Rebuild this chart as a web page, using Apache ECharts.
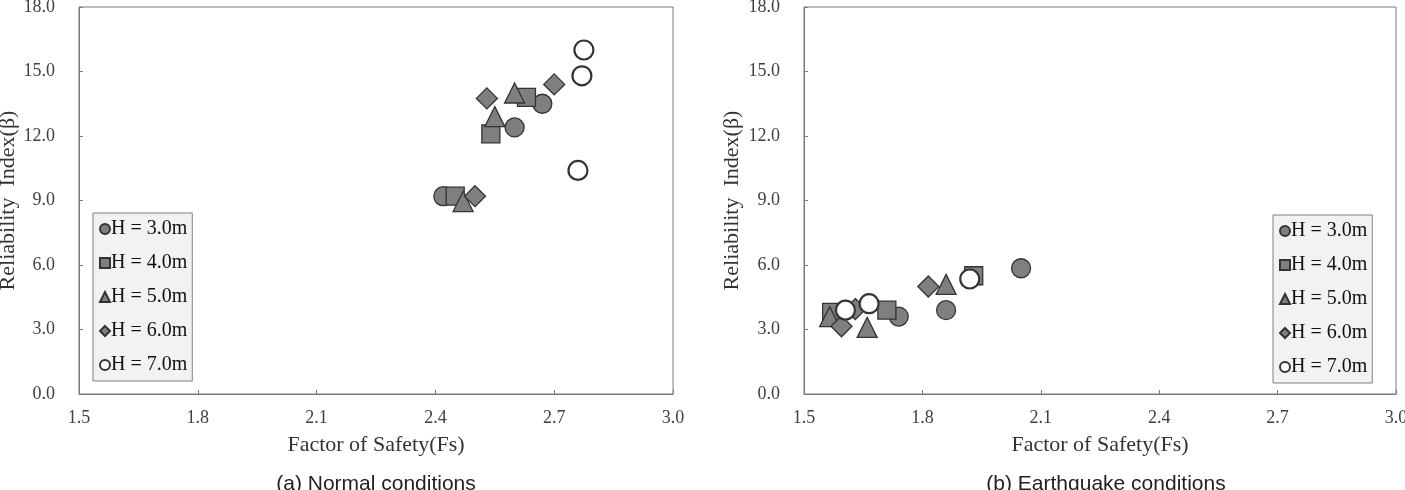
<!DOCTYPE html>
<html>
<head>
<meta charset="utf-8">
<style>
  html, body { margin: 0; padding: 0; background: #fff; }
  #chart { width: 1405px; height: 490px; }
</style>
<script src="https://cdn.jsdelivr.net/npm/echarts@6/dist/echarts.min.js"></script>
</head>
<body>
<div id="chart"></div>
<script>
// series names and tick labels
var seriesNames = ['H = 3.0m', 'H = 4.0m', 'H = 5.0m', 'H = 6.0m', 'H = 7.0m'];
var xTicks = [1.5, 1.8, 2.1, 2.4, 2.7, 3.0];
var yTicks = [0, 3, 6, 9, 12, 15, 18];

// (a) Normal conditions: [Fs, beta]
var normalH30 = [[2.42, 9.2], [2.60, 12.4], [2.67, 13.5]];
var normalH40 = [[2.45, 9.2], [2.54, 12.1], [2.63, 13.8]];
var normalH50 = [[2.47, 8.95], [2.55, 12.9], [2.60, 14.0]];
var normalH60 = [[2.50, 9.2], [2.53, 13.75], [2.70, 14.4]];
var normalH70 = [[2.76, 10.4], [2.77, 14.8], [2.775, 16.0]];

// (b) Earthquake conditions: [Fs, beta]
var quakeH30 = [[1.74, 3.6], [1.86, 3.9], [2.05, 5.85]];
var quakeH40 = [[1.57, 3.8], [1.71, 3.9], [1.93, 5.5]];
var quakeH50 = [[1.565, 3.6], [1.66, 3.1], [1.86, 5.1]];
var quakeH60 = [[1.595, 3.15], [1.63, 3.95], [1.815, 5.0]];
var quakeH70 = [[1.605, 3.9], [1.665, 4.2], [1.92, 5.35]];

var serif = '"Liberation Serif", "DejaVu Serif", serif';
var symbols = ['circle', 'rect', 'triangle', 'diamond', 'circle'];
var sizes = [19, 18, 20, 21, 19];
var fills = ['#7f7f7f', '#7f7f7f', '#7f7f7f', '#7f7f7f', '#ffffff'];
var borders = [1.3, 1.3, 1.3, 1.3, 2.2];

function makeSeries(list, axisIndex) {
  return list.map(function (data, i) {
    return {
      name: seriesNames[i],
      type: 'scatter',
      xAxisIndex: axisIndex,
      yAxisIndex: axisIndex,
      symbol: symbols[i],
      symbolSize: sizes[i],
      data: data,
      itemStyle: {
        color: fills[i],
        borderColor: '#333333',
        borderWidth: borders[i],
        opacity: 1
      },
      emphasis: { disabled: true }
    };
  });
}

function xAxisFor(gridIndex) {
  return {
    type: 'value',
    gridIndex: gridIndex,
    min: xTicks[0],
    max: xTicks[xTicks.length - 1],
    interval: 0.3,
    name: 'Factor of Safety(Fs)',
    nameLocation: 'middle',
    nameGap: 40,
    nameTextStyle: { fontFamily: serif, fontSize: 22, color: '#333' },
    axisLine: { show: true, lineStyle: { color: '#7a7a7a', width: 1 } },
    axisTick: { show: true, inside: true, length: 4, lineStyle: { color: '#7a7a7a' } },
    axisLabel: {
      fontFamily: serif, fontSize: 18, color: '#404040', margin: 15,
      formatter: function (v) { return v.toFixed(1); }
    },
    splitLine: { show: false }
  };
}

function yAxisFor(gridIndex, gap) {
  return {
    type: 'value',
    gridIndex: gridIndex,
    min: yTicks[0],
    max: yTicks[yTicks.length - 1],
    interval: 3,
    name: 'Reliability  Index(β)',
    nameLocation: 'middle',
    nameGap: gap,
    nameTextStyle: { fontFamily: serif, fontSize: 22, color: '#333' },
    axisLine: { show: true, lineStyle: { color: '#7a7a7a', width: 1 } },
    axisTick: { show: true, inside: true, length: 4, lineStyle: { color: '#7a7a7a' } },
    axisLabel: {
      fontFamily: serif, fontSize: 18, color: '#404040', margin: 24,
      formatter: function (v) { return v.toFixed(1); }
    },
    splitLine: { show: false }
  };
}

function legendAt(left, top) {
  return {
    orient: 'vertical',
    left: left,
    top: top,
    data: seriesNames,
    itemWidth: 10,
    itemHeight: 10,
    itemGap: 14,
    padding: [6, 5, 6, 6],
    backgroundColor: '#f2f2f2',
    borderColor: '#808080',
    borderWidth: 1,
    selectedMode: false,
    textStyle: { fontFamily: serif, fontSize: 20, color: '#111', lineHeight: 20, padding: [0, 0, 0, -4] }
  };
}

var chart = echarts.init(document.getElementById('chart'));
chart.setOption({
  animation: false,
  backgroundColor: '#ffffff',
  grid: [
    { left: 79, right: 732, top: 7, bottom: 96, show: true, borderColor: '#7a7a7a', borderWidth: 1, outerBoundsMode: 'none' },
    { left: 804, right: 9, top: 7, bottom: 96, show: true, borderColor: '#7a7a7a', borderWidth: 1, outerBoundsMode: 'none' }
  ],
  xAxis: [xAxisFor(0), xAxisFor(1)],
  yAxis: [yAxisFor(0, 60), yAxisFor(1, 61)],
  legend: [legendAt(93, 213), legendAt(1273, 215)],
  graphic: [
    {
      type: 'text', x: 376, y: 474,
      style: { text: '(a) Normal conditions', font: '21px "Liberation Sans", Arial, sans-serif', fill: '#222', textAlign: 'center', textVerticalAlign: 'top' }
    },
    {
      type: 'text', x: 1106, y: 474,
      style: { text: '(b) Earthquake conditions', font: '21px "Liberation Sans", Arial, sans-serif', fill: '#222', textAlign: 'center', textVerticalAlign: 'top' }
    }
  ],
  series: makeSeries([normalH30, normalH40, normalH50, normalH60, normalH70], 0)
    .concat(makeSeries([quakeH30, quakeH40, quakeH50, quakeH60, quakeH70], 1))
});
</script>
</body>
</html>
